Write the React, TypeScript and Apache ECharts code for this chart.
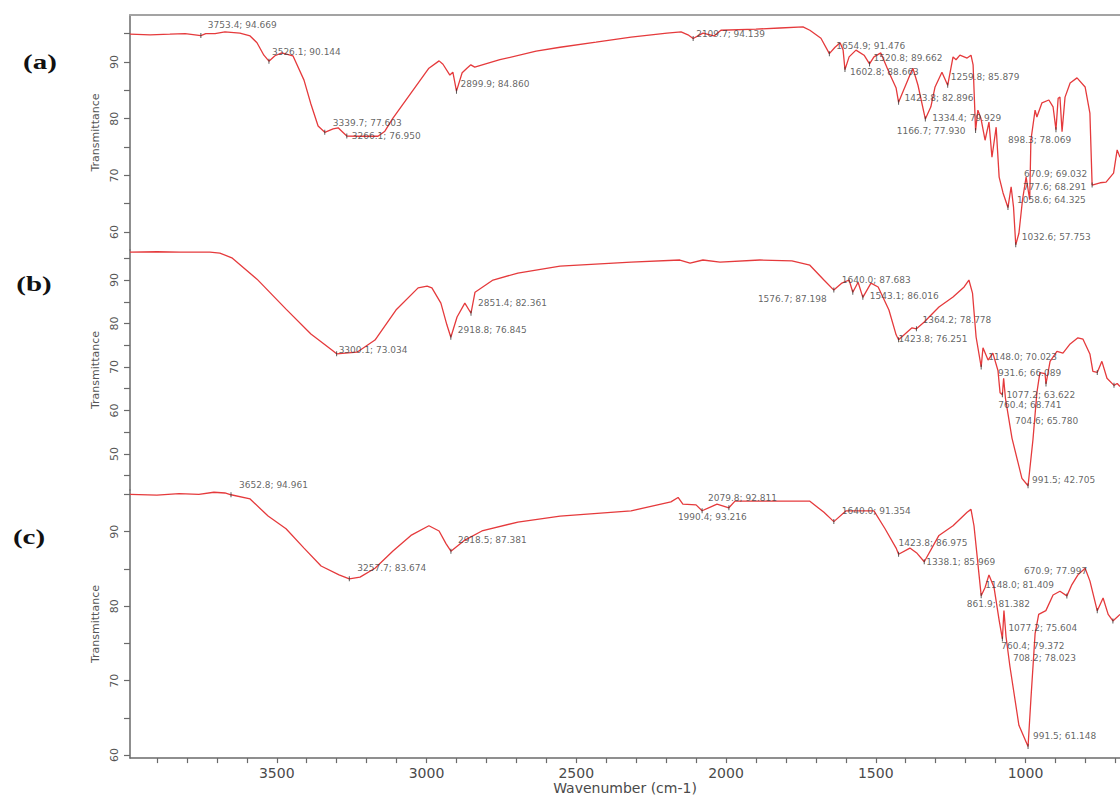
import React, { useEffect, useRef } from "react";
import * as echarts from "echarts";

// ---------- data ----------
const X_MIN = 684.5;
const X_MAX = 3990;
const xTickValues = [700, 800, 900, 1000, 1100, 1200, 1300, 1400, 1500, 1600, 1700, 1800, 1900, 2000, 2100, 2200, 2300, 2400, 2500, 2600, 2700, 2800, 2900, 3000, 3100, 3200, 3300, 3400, 3500, 3600, 3700, 3800, 3900];
const xLabelValues = [1000, 1500, 2000, 2500, 3000, 3500];

const panelNames = ["(a)", "(b)", "(c)"];
const yTitle = "Transmittance";
const xTitle = "Wavenumber (cm-1)";

const yRangeA = [56.84, 98.29];
const yRangeB = [41.72, 96.9];
const yRangeC = [59.6, 95.6];
const yTicksA = [60, 65, 70, 75, 80, 85, 90, 95];
const yLabelsA = [60, 70, 80, 90];
const yTicksB = [45, 50, 55, 60, 65, 70, 75, 80, 85, 90, 95];
const yLabelsB = [50, 60, 70, 80, 90];
const yTicksC = [60, 65, 70, 75, 80, 85, 90, 95];
const yLabelsC = [60, 70, 80, 90];

const spectrumA: number[][] = [
  [3990, 94.9], [3923, 94.8], [3857, 94.9], [3806, 95.0], [3773, 94.8], [3753.4, 94.669], [3737, 95.0], [3706, 95.0], [3673, 95.3], [3623, 95.1], [3589, 94.6], [3566, 93.4], [3543, 91.2], [3526.1, 90.144], [3506, 91.1], [3483, 91.6], [3446, 91.1], [3409, 86.8], [3386, 82.6], [3362, 78.7], [3339.7, 77.603], [3312, 78.2], [3295, 78.4], [3283, 77.8], [3266.1, 76.95], [3222, 76.9], [3162, 76.9], [3139, 77.8], [3112, 80.1], [3052, 84.5], [2992, 88.9], [2958, 90.2], [2945, 89.6], [2922, 87.7], [2912, 88.2], [2899.9, 84.86], [2881, 88.1], [2865, 88.9], [2852, 89.5], [2839, 89.1], [2755, 90.4], [2634, 91.9], [2554, 92.6], [2434, 93.5], [2317, 94.4], [2197, 95.1], [2150, 95.3], [2127, 94.8], [2109.7, 94.139], [2077, 95.1], [2054, 94.8], [2040, 94.6], [2017, 95.6], [1900, 95.8], [1820, 96.0], [1743, 96.2], [1720, 95.6], [1683, 94.2], [1654.9, 91.476], [1636, 92.6], [1619, 93.4], [1609, 92.1], [1602.8, 88.663], [1589, 90.9], [1566, 92.1], [1539, 91.2], [1520.8, 89.662], [1506, 90.9], [1483, 91.6], [1456, 88.2], [1432, 85.4], [1423.8, 82.896], [1386, 87.7], [1376, 88.9], [1359, 85.9], [1334.4, 79.929], [1316, 82.1], [1302, 85.6], [1279, 88.2], [1259.8, 85.879], [1242, 90.9], [1232, 90.4], [1219, 91.2], [1195, 90.7], [1182, 91.2], [1175, 89.5], [1166.7, 77.93], [1159, 81.5], [1149, 80.1], [1135, 76.2], [1122, 79.4], [1112, 73.2], [1098, 78.5], [1088, 69.7], [1075, 66.9], [1058.6, 64.325], [1048, 68.0], [1040, 64.4], [1032.6, 57.753], [1022, 59.8], [1010, 65.7], [998, 69.7], [986, 65.7], [982, 76.2], [968, 81.5], [962, 80.3], [945, 82.8], [922, 83.3], [908, 82.1], [898.3, 78.069], [891, 83.6], [885, 83.8], [878, 77.7], [868, 83.8], [851, 86.3], [828, 87.2], [801, 85.6], [785, 81.0], [777.6, 68.291], [751, 68.7], [731, 68.8], [706, 70.4], [694, 74.5], [684.5, 73.2]
];

const spectrumB: number[][] = [
  [3990, 96.4], [3900, 96.5], [3823, 96.4], [3723, 96.4], [3690, 96.2], [3650, 95.1], [3566, 90.2], [3469, 83.3], [3386, 77.6], [3316, 73.9], [3300.1, 73.034], [3232, 73.4], [3172, 76.2], [3102, 83.1], [3028, 88.2], [2998, 88.6], [2982, 88.2], [2952, 84.7], [2932, 79.7], [2918.8, 76.845], [2898, 81.5], [2872, 84.7], [2851.4, 82.361], [2838, 87.2], [2778, 90.0], [2695, 91.6], [2554, 93.2], [2317, 94.1], [2154, 94.6], [2120, 93.9], [2077, 94.6], [2020, 94.1], [1887, 94.6], [1780, 94.4], [1720, 93.4], [1673, 90.0], [1640.0, 87.683], [1613, 89.3], [1589, 90.0], [1576.7, 87.198], [1559, 89.5], [1543.1, 86.016], [1516, 89.3], [1492, 88.4], [1456, 83.1], [1432, 77.4], [1423.8, 76.251], [1379, 79.0], [1364.2, 78.778], [1339, 80.3], [1289, 83.8], [1242, 86.1], [1205, 88.4], [1189, 90.0], [1177, 87.0], [1165, 76.9], [1148.0, 70.023], [1142, 74.4], [1125, 71.6], [1109, 73.2], [1092, 69.2], [1085, 64.1], [1077.2, 63.622], [1073, 67.4], [1067, 62.8], [1045, 53.6], [1012, 44.4], [991.5, 42.705], [975, 53.4], [962, 64.1], [952, 68.7], [935, 68.5], [931.6, 66.089], [918, 71.3], [895, 73.6], [875, 73.2], [851, 75.3], [825, 76.7], [808, 76.4], [785, 73.0], [775, 69.0], [760.4, 68.741], [745, 71.3], [728, 67.4], [704.6, 65.78], [694, 66.2], [684.5, 65.5]
];

const spectrumC: number[][] = [
  [3990, 95.0], [3900, 94.9], [3826, 95.1], [3760, 95.0], [3710, 95.3], [3673, 95.2], [3652.8, 94.961], [3589, 94.4], [3529, 92.1], [3469, 90.4], [3409, 87.8], [3352, 85.4], [3292, 84.2], [3257.7, 83.674], [3222, 83.9], [3172, 85.1], [3112, 87.4], [3052, 89.5], [2992, 90.8], [2958, 90.1], [2935, 88.4], [2918.5, 87.381], [2875, 88.8], [2815, 90.1], [2695, 91.3], [2554, 92.1], [2317, 92.8], [2184, 94.0], [2160, 94.6], [2144, 93.7], [2100, 93.6], [2079.8, 92.811], [2030, 93.7], [1990.4, 93.216], [1970, 94.1], [1900, 94.1], [1720, 94.1], [1673, 92.6], [1640.0, 91.354], [1599, 92.8], [1506, 92.8], [1469, 90.4], [1432, 87.8], [1423.8, 86.975], [1386, 87.8], [1362, 87.1], [1338.1, 85.969], [1289, 89.5], [1242, 90.8], [1195, 92.6], [1182, 93.0], [1172, 90.8], [1148.0, 81.409], [1135, 82.5], [1122, 84.2], [1105, 82.5], [1088, 78.1], [1077.2, 75.604], [1072, 79.4], [1065, 75.9], [1052, 71.9], [1022, 64.0], [991.5, 61.148], [982, 67.5], [968, 76.3], [956, 78.9], [932, 79.4], [908, 81.5], [885, 82.0], [861.9, 81.382], [845, 82.9], [825, 84.2], [801, 85.1], [785, 83.4], [760.4, 79.372], [741, 81.1], [724, 78.9], [708.2, 78.023], [684.5, 78.9]
];

const peaksA: number[][] = [
  [3753.4, 94.669], [3526.1, 90.144], [3339.7, 77.603], [3266.1, 76.95], [2899.9, 84.86], [2109.7, 94.139], [1654.9, 91.476], [1602.8, 88.663], [1520.8, 89.662], [1259.8, 85.879], [1423.8, 82.896], [1334.4, 79.929], [1166.7, 77.93], [898.3, 78.069], [670.9, 69.032], [777.6, 68.291], [1058.6, 64.325], [1032.6, 57.753]
];
const peaksB: number[][] = [
  [3300.1, 73.034], [2918.8, 76.845], [2851.4, 82.361], [1576.7, 87.198], [1640.0, 87.683], [1543.1, 86.016], [1364.2, 78.778], [1423.8, 76.251], [1148.0, 70.023], [931.6, 66.089], [1077.2, 63.622], [760.4, 68.741], [704.6, 65.78], [991.5, 42.705]
];
const peaksC: number[][] = [
  [3652.8, 94.961], [3257.7, 83.674], [2918.5, 87.381], [2079.8, 92.811], [1990.4, 93.216], [1640.0, 91.354], [1423.8, 86.975], [1338.1, 85.969], [670.9, 77.997], [1148.0, 81.409], [861.9, 81.382], [1077.2, 75.604], [760.4, 79.372], [708.2, 78.023], [991.5, 61.148]
];

// ---------- label placement (style, separate from data) ----------
const placeA: any[] = [[7, -11, "l"], [3, -9, "l"], [8, -9, "l"], [5, 0, "l"], [4, -7, "l"], [3, -5, "l"], [7, -8, "l"], [5, 2, "l"], [4, -6, "l"], [3, -8, "l"], [6, -4, "l"], [7, -1, "l"], [-10, 1, "r"], [-48, 10, "l"], [-100, -7, "l"], [-6, 2, "r"], [9, -8, "l"], [6, -8, "l"]];
const placeB: any[] = [[2, -4, "l"], [7, -7, "l"], [7, -10, "l"], [-26, 7, "r"], [8, -10, "l"], [7, -1, "l"], [6, -9, "l"], [0, -1, "l"], [7, -10, "l"], [-48, -11, "l"], [4, 0, "l"], [-99, 33, "l"], [-99, 36, "l"], [4, -6, "l"]];
const placeC: any[] = [[8, -10, "l"], [8, -11, "l"], [7, -11, "l"], [6, -13, "l"], [-51, 9, "l"], [8, -11, "l"], [0, -11, "l"], [2, 0, "l"], [-100, -50, "l"], [4, -11, "l"], [-100, 8, "l"], [6, -11, "l"], [-96, 35, "l"], [-100, 37, "l"], [5, -11, "l"]];

const FONT = "DejaVu Sans";
const LINE_COLOR = "#e53a3c";
const AXIS_COLOR = "#6a6a6a";

function peakData(peaks: number[][], place: any[]) {
  return peaks.map((p, i) => {
    const [dx, dy, al] = place[i];
    return {
      value: p,
      label: {
        show: true,
        position: [dx + 0.5, dy + 2.5],
        align: al === "r" ? "right" : "left",
        verticalAlign: "middle",
        formatter: () => `${p[0].toFixed(1)}; ${p[1].toFixed(3)}`,
      },
    };
  });
}

export default function App() {
  const ref = useRef<HTMLDivElement>(null);

  useEffect(() => {
    if (!ref.current) return;
    const chart = echarts.init(ref.current, null, { renderer: "svg" });

    const grids = [
      { left: 130, right: 0, top: 15, height: 235 },
      { left: 130, right: 0, top: 250, height: 240 },
      { left: 130, right: 0, top: 490, height: 273 },
    ];
    const ranges = [yRangeA, yRangeB, yRangeC];
    const ticks = [yTicksA, yTicksB, yTicksC];
    const labels = [yLabelsA, yLabelsB, yLabelsC];
    const spectra = [spectrumA, spectrumB, spectrumC];
    const peaks = [peaksA, peaksB, peaksC];
    const places = [placeA, placeB, placeC];

    const xAxes = [0, 1, 2].map((i) => ({
      type: "value",
      gridIndex: i,
      min: X_MIN,
      max: X_MAX,
      inverse: true,
      position: i === 0 ? "top" : "bottom",
      show: i !== 1,
      axisLine: {
        show: true,
        onZero: false,
        lineStyle: i === 0 ? { color: "#a3a3a3", width: 2 } : { color: AXIS_COLOR, width: 1.5 },
      },
      axisTick: {
        show: i === 2,
        customValues: xTickValues,
        length: 5,
        lineStyle: { color: AXIS_COLOR, width: 1.2 },
      },
      axisLabel: {
        show: i === 2,
        customValues: xLabelValues,
        formatter: (v: number) => String(v),
        fontFamily: FONT,
        fontSize: 14,
        color: "#4a4a4a",
        margin: 8,
      },
      splitLine: { show: false },
      name: i === 2 ? xTitle : "",
      nameLocation: "middle",
      nameGap: 22,
      nameTextStyle: { fontFamily: FONT, fontSize: 14, color: "#4a4a4a" },
    }));

    const yAxes = [0, 1, 2].map((i) => ({
      type: "value",
      gridIndex: i,
      min: ranges[i][0],
      max: ranges[i][1],
      axisLine: { show: true, onZero: false, lineStyle: { color: AXIS_COLOR, width: 1.5 } },
      axisTick: { show: true, customValues: ticks[i], length: 6, lineStyle: { color: AXIS_COLOR, width: 1.2 } },
      axisLabel: {
        customValues: labels[i],
        formatter: (v: number) => String(v),
        rotate: 90,
        fontFamily: FONT,
        fontSize: 11,
        color: "#555",
        margin: 10,
      },
      splitLine: { show: false },
      name: yTitle,
      nameLocation: "middle",
      nameRotate: 90,
      nameGap: 26,
      nameTextStyle: { fontFamily: FONT, fontSize: 11, color: "#555" },
    }));

    const series: any[] = [];
    [0, 1, 2].forEach((i) => {
      series.push({
        type: "line",
        xAxisIndex: i,
        yAxisIndex: i,
        data: spectra[i],
        showSymbol: false,
        symbol: "none",
        lineStyle: { color: LINE_COLOR, width: 1.3 },
        z: 2,
      });
      series.push({
        type: "scatter",
        xAxisIndex: i,
        yAxisIndex: i,
        clip: false,
        symbol: "rect",
        symbolSize: [1, 5],
        itemStyle: { color: "#333" },
        label: { fontFamily: FONT, fontSize: 9, color: "#3c3c3c" },
        data: peakData(peaks[i], places[i]),
        z: 3,
      });
    });

    const panelPos = [
      [40, 62],
      [34, 284],
      [29, 537],
    ];
    const graphic = panelNames.map((t, i) => ({
      type: "text",
      x: panelPos[i][0],
      y: panelPos[i][1],
      scaleX: 1.45,
      style: {
        text: t,
        fontFamily: "Liberation Serif",
        fontWeight: "bold",
        fontSize: 20,
        fill: "#111",
        textAlign: "center",
        textVerticalAlign: "middle",
      },
    }));

    chart.setOption({
      animation: false,
      backgroundColor: "#ffffff",
      grid: grids,
      xAxis: xAxes,
      yAxis: yAxes,
      series,
      graphic,
    });
    return () => chart.dispose();
  }, []);

  return (
    <div style={{ position: "fixed", left: 0, top: 0, width: 1120, height: 796, background: "#fff" }}>
      <div ref={ref} style={{ width: 1120, height: 796 }} />
    </div>
  );
}
